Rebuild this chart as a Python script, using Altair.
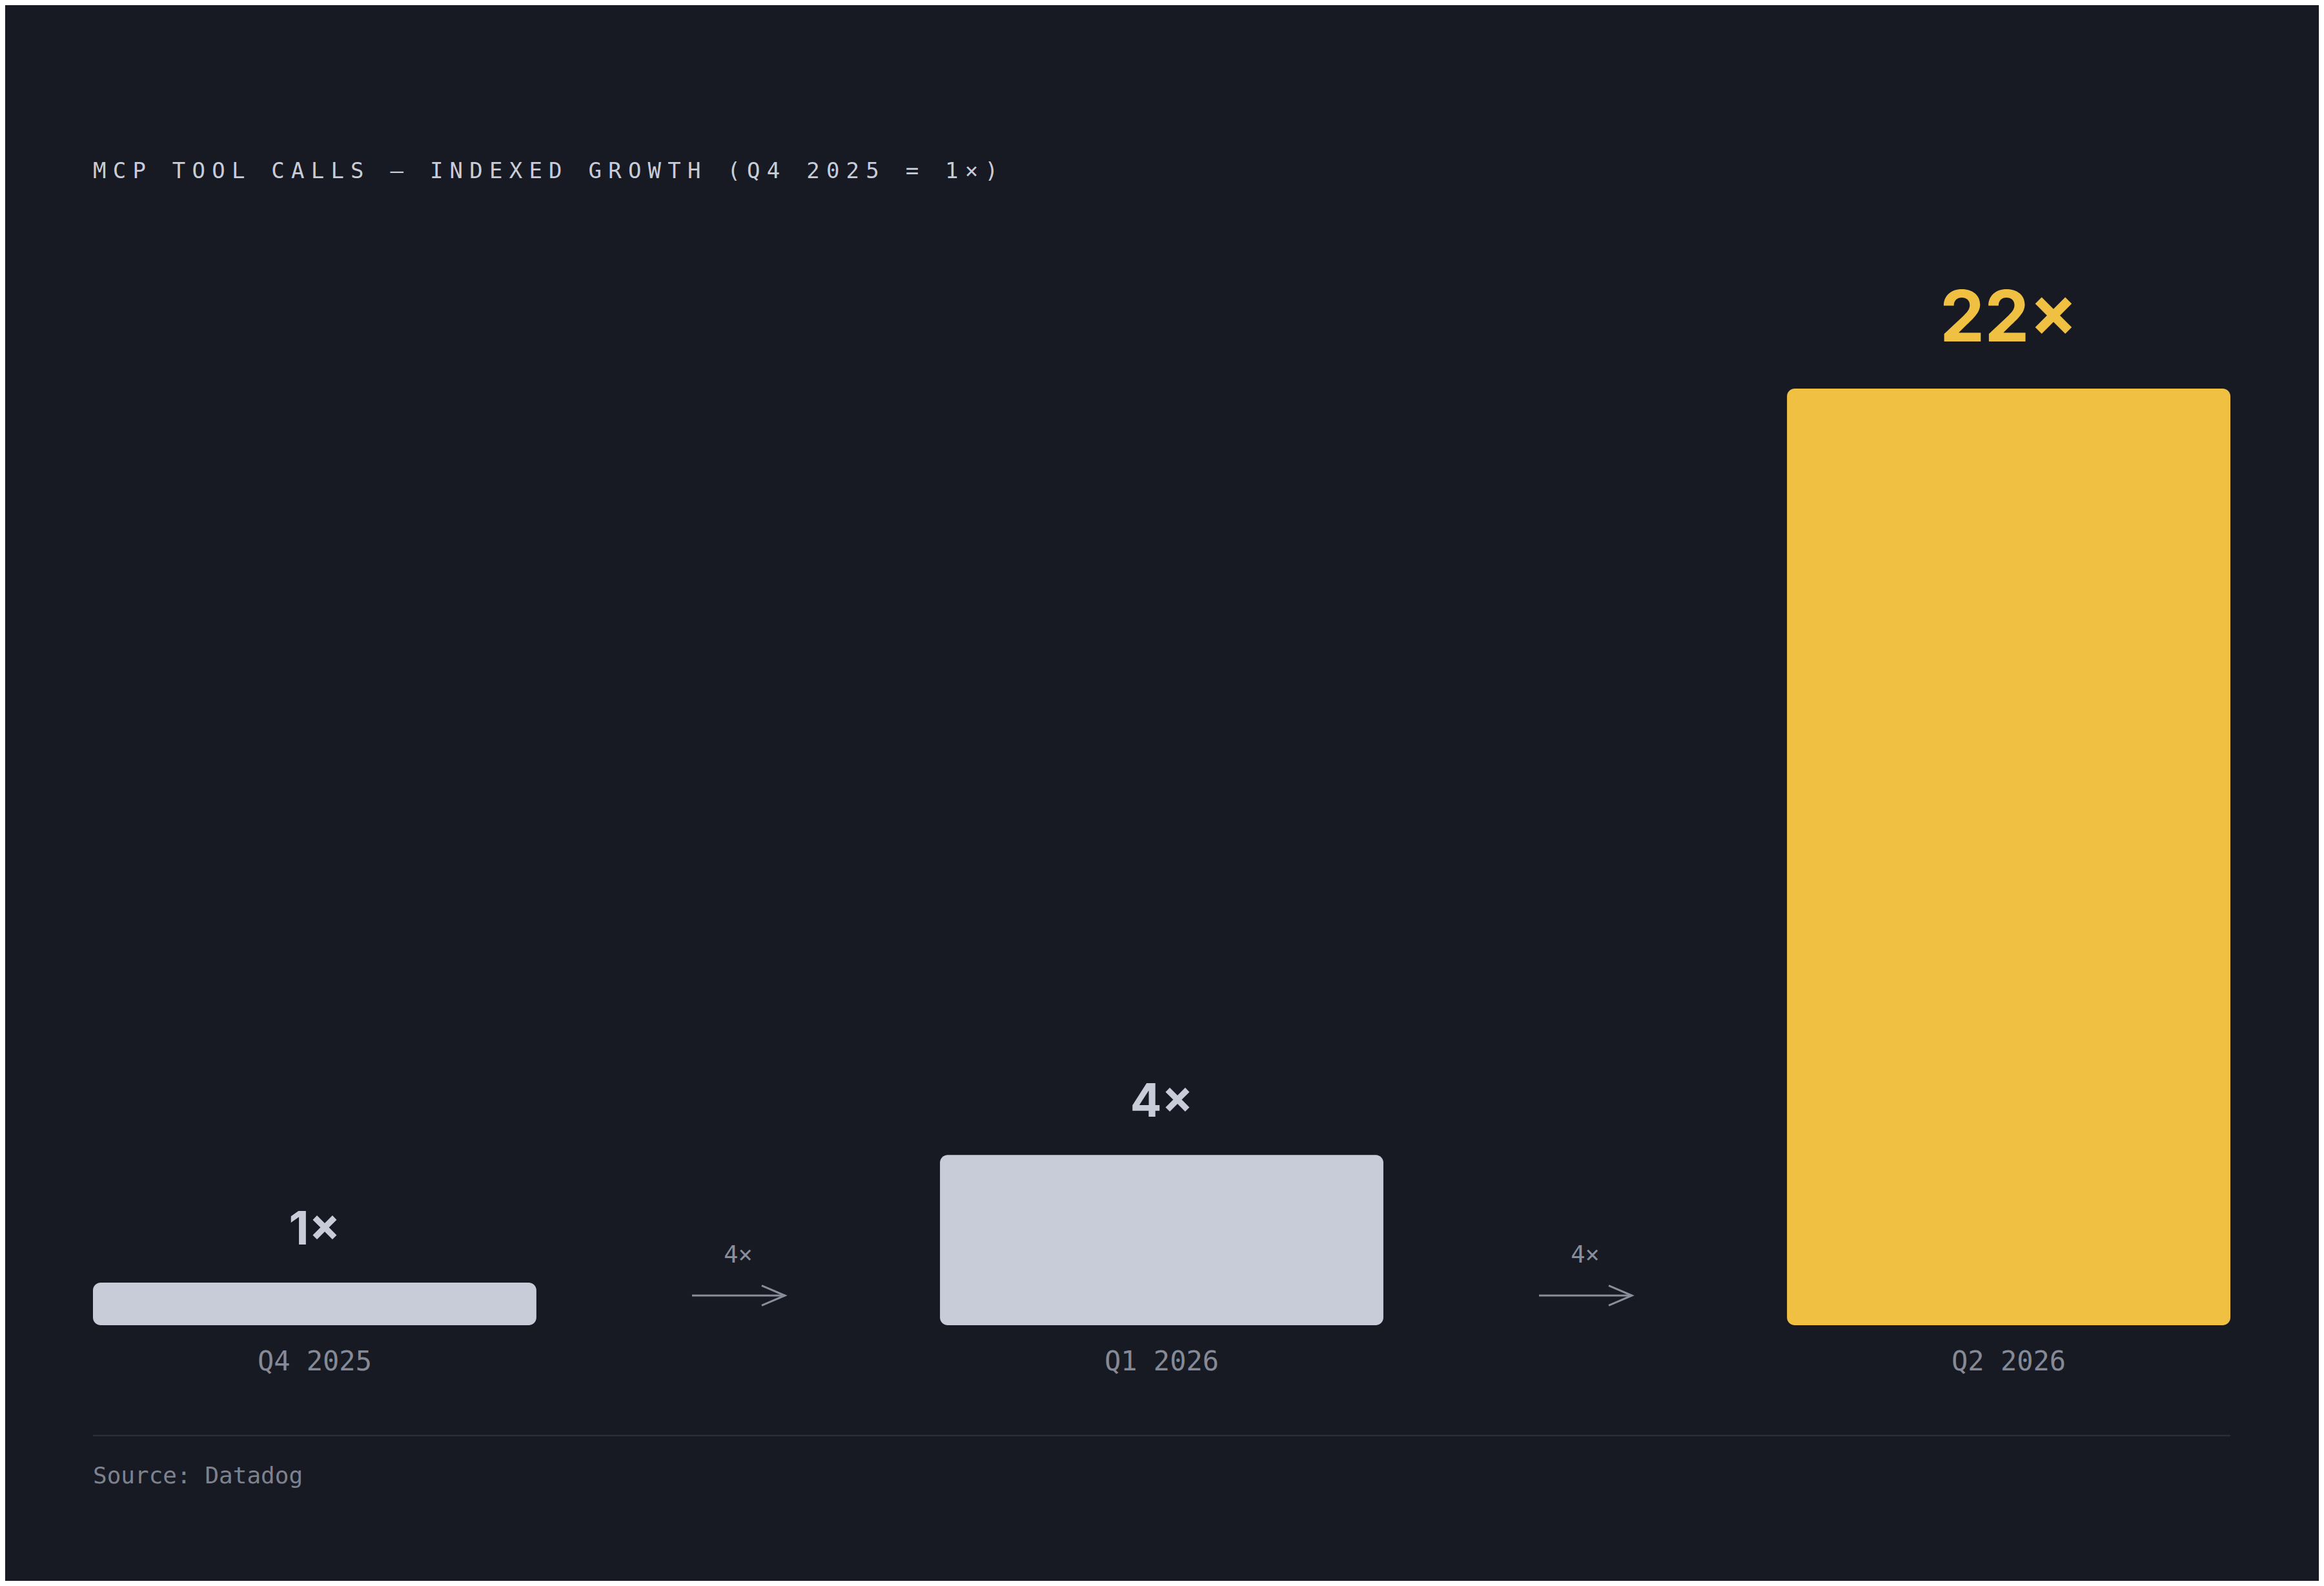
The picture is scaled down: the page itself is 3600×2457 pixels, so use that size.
import altair as alt
import pandas as pd

# ---- data ----
quarters = ["Q4 2025", "Q1 2026", "Q2 2026"]
index_values = [1, 4, 22]
value_labels = ["1×", "4×", "22×"]
highlight = [False, False, True]
step_labels = ["4×", "4×"]
title_text = "MCP TOOL CALLS — INDEXED GROWTH (Q4 2025 = 1×)"
source_text = "Source: Datadog"

# ---- style ----
BG = "#171A22"
LIGHT = "#C8CCD8"
GOLD = "#EFC042"
MUTED = "#868A96"
ARROW = "#8A8E9A"
RULE = "#2A2D39"
MONO = "DejaVu Sans Mono"
SANS = "Inter"

W, H = 3311, 1451
BAR_FRAC = 0.5235
n = len(quarters)
STEP_PX = W / (n - 1 + BAR_FRAC)
X0 = -BAR_FRAC / 2
X1 = n - 1 + BAR_FRAC / 2
TITLE_PITCH = 30.7

x_scale = alt.Scale(domain=[X0, X1], nice=False, zero=False)
y_scale = alt.Scale(domain=[0, max(index_values)], nice=False, zero=True)

bars_df = pd.DataFrame({
    "quarter": quarters,
    "idx": list(range(n)),
    "value": index_values,
    "label": value_labels,
    "hl": highlight,
})
steps_df = pd.DataFrame({
    "pos": [i + 0.5 for i in range(n - 1)],
    "label": step_labels,
})
title_df = pd.DataFrame({"ch": list(title_text), "i": list(range(len(title_text)))})

base = alt.Chart(bars_df).transform_calculate(
    x_left=f"datum.idx - {BAR_FRAC / 2}",
    x_right=f"datum.idx + {BAR_FRAC / 2}",
)

bars = base.mark_bar(cornerRadius=12).encode(
    x=alt.X("x_left:Q", scale=x_scale, axis=None),
    x2="x_right:Q",
    y=alt.Y("value:Q", scale=y_scale, axis=None),
    y2=alt.datum(0),
    color=alt.condition("datum.hl", alt.value(GOLD), alt.value(LIGHT)),
)

lab_normal = base.transform_filter("!datum.hl").mark_text(
    font=SANS, fontWeight=700, fontSize=72, color=LIGHT,
    baseline="alphabetic", align="center", dy=-59,
).encode(
    x=alt.X("idx:Q", scale=x_scale, axis=None),
    y=alt.Y("value:Q", scale=y_scale, axis=None),
    text="label:N",
)

lab_hl = base.transform_filter("datum.hl").mark_text(
    font=SANS, fontWeight=700, fontSize=110, color=GOLD,
    baseline="alphabetic", align="center", dy=-73,
).encode(
    x=alt.X("idx:Q", scale=x_scale, axis=None),
    y=alt.Y("value:Q", scale=y_scale, axis=None),
    text="label:N",
)

cats = base.mark_text(
    font=MONO, fontSize=42, color=MUTED, baseline="alphabetic", align="center",
).encode(
    x=alt.X("idx:Q", scale=x_scale, axis=None),
    y=alt.value(H + 70),
    text="quarter:N",
)

arrow_base = alt.Chart(steps_df).transform_calculate(
    a0=f"datum.pos - {71.5 / STEP_PX}",
    a1=f"datum.pos + {72.5 / STEP_PX}",
)

shaft = arrow_base.mark_rule(color=ARROW, strokeWidth=3).encode(
    x=alt.X("a0:Q", scale=x_scale, axis=None),
    x2="a1:Q",
    y=alt.value(1405),
)

head = arrow_base.mark_point(
    shape="M-1,-0.43L0,0L-1,0.43", size=72 ** 2, filled=False,
    stroke=ARROW, strokeWidth=3, opacity=1,
).encode(
    x=alt.X("a1:Q", scale=x_scale, axis=None),
    y=alt.value(1405),
)

step_text = arrow_base.mark_text(
    font=MONO, fontSize=37, color=ARROW, baseline="alphabetic", align="center",
).encode(
    x=alt.X("pos:Q", scale=x_scale, axis=None),
    y=alt.value(1354),
    text="label:N",
)

title_layer = alt.Chart(title_df).transform_calculate(
    tx=f"{X0} + datum.i * {TITLE_PITCH / STEP_PX}"
).mark_text(
    font=MONO, fontSize=34, color=LIGHT, align="left", baseline="alphabetic",
).encode(
    x=alt.X("tx:Q", scale=x_scale, axis=None),
    y=alt.value(-326),
    text="ch:N",
)

divider = alt.Chart(pd.DataFrame({"k": [0]})).mark_rule(
    color=RULE, strokeWidth=2.5
).encode(x=alt.value(0), x2=alt.value(W), y=alt.value(1622))

source = alt.Chart(pd.DataFrame({"t": [source_text]})).mark_text(
    font=MONO, fontSize=36, color="#7E828E", align="left", baseline="alphabetic",
).encode(x=alt.value(0), y=alt.value(1696), text="t:N")

chart = alt.layer(
    bars, lab_normal, lab_hl, cats, shaft, head, step_text, title_layer, divider, source
).properties(
    width=W,
    height=H,
    background=BG,
    padding={"left": 136, "top": 594, "right": 137, "bottom": 396},
    autosize=alt.AutoSizeParams(type="none"),
).configure_view(stroke=None)

chart.save("out.html", embed_options={"renderer": "svg", "actions": False})
